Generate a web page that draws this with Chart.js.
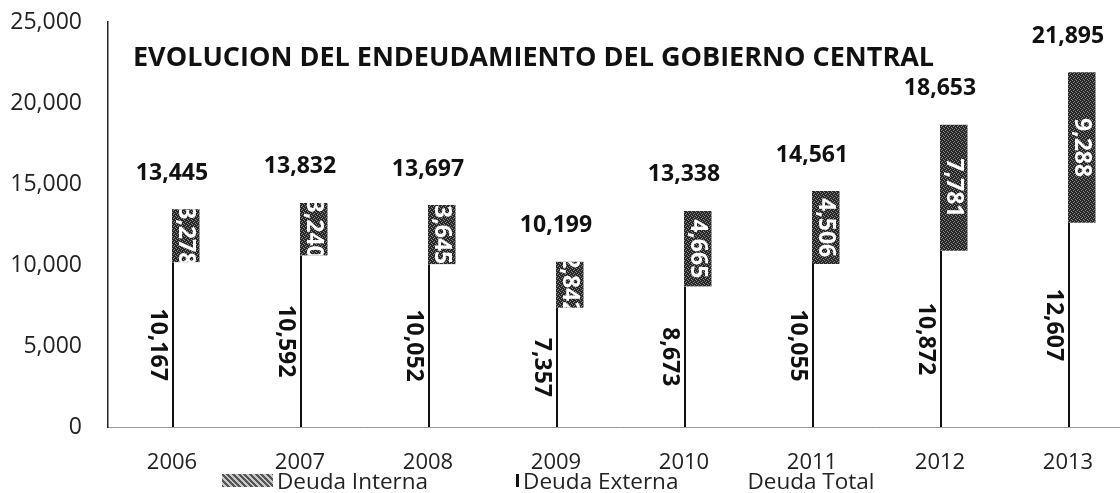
<!DOCTYPE html>
<html>
<head>
<meta charset="utf-8">
<script src="https://cdn.jsdelivr.net/npm/chart.js@4.4.1/dist/chart.umd.min.js"></script>
<style>
html,body{margin:0;padding:0;background:#fff;overflow:hidden;}
#wrap{position:relative;width:1140px;height:493px;}
#legend{position:absolute;left:222px;top:467px;display:flex;font:22.5px "Open Sans",sans-serif;color:#222;}
#legend .item{display:flex;align-items:center;height:26px;}
#legend .box{width:51px;height:13px;margin-right:4px;box-sizing:border-box;}
</style>
</head>
<body>
<div id="wrap">
  <canvas id="chart" width="1140" height="493"></canvas>
  <div id="legend"></div>
</div>
<script>
const years=["2006","2007","2008","2009","2010","2011","2012","2013"];
const deudaExterna=[10167,10592,10052,7357,8673,10055,10872,12607];
const deudaInterna=[3278,3240,3645,2842,4665,4506,7781,9288];
const deudaTotal=[13445,13832,13697,10199,13338,14561,18653,21895];
const titulo="EVOLUCION DEL ENDEUDAMIENTO DEL GOBIERNO CENTRAL";

const fmt=v=>v.toLocaleString("en-US");

function hatch(){
  const c=document.createElement("canvas");
  c.width=c.height=4;
  const g=c.getContext("2d");
  g.fillStyle="#262626";
  g.fillRect(0,0,4,4);
  g.fillStyle="#8c8c8c";
  g.fillRect(0,0,1,1);g.fillRect(2,1,1,1);g.fillRect(1,2,1,1);g.fillRect(3,3,1,1);
  return g.createPattern(c,"repeat");
}

const labelsPlugin={
  id:"labels",
  afterDatasetsDraw(chart){
    const ctx=chart.ctx;
    const xs=chart.scales.x, ys=chart.scales.y;
    ctx.save();
    ctx.font='bold 23px "Open Sans"';
    ctx.textAlign="center";
    ctx.textBaseline="middle";
    ctx.fillStyle="#111";
    // totales sobre cada barra
    deudaTotal.forEach((v,i)=>{
      ctx.fillText(fmt(v),xs.getPixelForValue(i),ys.getPixelForValue(v)-36);
    });
    // externa, girado a la izquierda de la barra
    chart.getDatasetMeta(1).data.forEach((bar,i)=>{
      ctx.save();
      ctx.translate(bar.x-bar.width/2-14,(bar.y+bar.base)/2);
      ctx.rotate(Math.PI/2);
      ctx.fillText(fmt(deudaExterna[i]),0,0);
      ctx.restore();
    });
    // interna, dentro del tramo oscuro
    chart.getDatasetMeta(2).data.forEach((bar,i)=>{
      ctx.save();
      ctx.beginPath();
      ctx.rect(bar.x-bar.width/2,bar.y,bar.width,bar.base-bar.y);
      ctx.clip();
      ctx.translate(bar.x,(bar.y+bar.base)/2);
      ctx.rotate(Math.PI/2);
      ctx.fillStyle="#fff";
      ctx.fillText(fmt(deudaInterna[i]),0,0);
      ctx.restore();
    });
    ctx.font='bold 27px "Open Sans"';
    ctx.textAlign="left";
    ctx.fillText(titulo,133,58);
    ctx.restore();
  }
};

const chart=new Chart(document.getElementById("chart"),{
  type:"bar",
  data:{
    labels:years,
    datasets:[
      {label:"Deuda Total",data:deudaTotal,stack:"t",backgroundColor:"rgba(0,0,0,0)",borderWidth:0},
      {label:"Deuda Externa",data:deudaExterna,stack:"d",backgroundColor:"#fff",borderColor:"#111",
        borderWidth:{left:2,top:0,right:0,bottom:0}},
      {label:"Deuda Interna",data:deudaInterna,stack:"d",backgroundColor:hatch(),borderWidth:0}
    ]
  },
  options:{
    responsive:false,
    animation:false,
    devicePixelRatio:1,
    categoryPercentage:0.43,
    barPercentage:1,
    layout:{padding:{top:0,right:8,left:0,bottom:0}},
    plugins:{legend:{display:false},tooltip:{enabled:false}},
    scales:{
      x:{
        stacked:true,
        grid:{display:false},
        border:{color:"#999",dash:[3,3],width:1},
        ticks:{color:"#222",font:{family:"Open Sans",size:22},padding:15,maxRotation:0},
        afterFit(s){s.height=66;}
      },
      y:{
        stacked:true,
        min:0,max:25000,
        grid:{display:false,drawTicks:false},
        border:{color:"#222",width:1.5},
        ticks:{stepSize:5000,color:"#222",font:{family:"Open Sans",size:23},padding:26,
          callback:v=>fmt(v)},
        // el eje arranca a 22px del borde superior
        afterFit(s){s.width=108;s.paddingTop=22;s.paddingBottom=0;}
      }
    }
  },
  plugins:[labelsPlugin]
});

// leyenda
const leg=document.getElementById("legend");
const items=[
  {name:"Deuda Interna",box:"background:repeating-linear-gradient(45deg,#555 0 2px,#c8c8c8 2px 4px);",gap:0},
  {name:"Deuda Externa",box:"border-right:3px solid #111;",gap:40},
  {name:"Deuda Total",box:"",gap:14}
];
items.forEach(d=>{
  const it=document.createElement("div");
  it.className="item";
  it.style.marginLeft=d.gap+"px";
  it.innerHTML='<span class="box" style="'+d.box+'"></span><span>'+d.name+'</span>';
  leg.appendChild(it);
});
</script>
</body>
</html>
